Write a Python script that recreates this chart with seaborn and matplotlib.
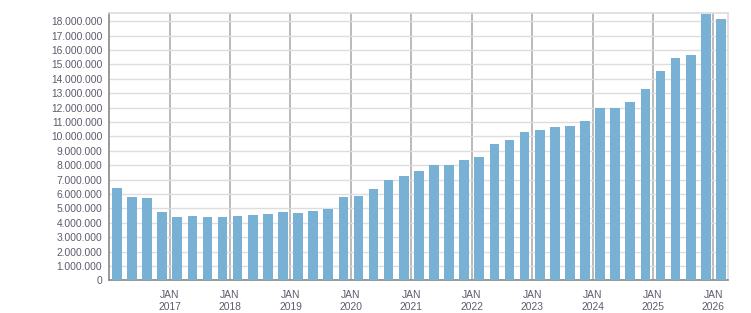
import matplotlib
matplotlib.use("Agg")
import matplotlib.pyplot as plt
import seaborn as sns
import pandas as pd
from matplotlib.ticker import FixedLocator, FuncFormatter

# ---- data ----
quarters = [f"{y}-Q{q}" for y in range(2016, 2026) for q in range(1, 5)] + ["2026-Q1"]
values_mn = [6.41, 5.79, 5.72, 4.75, 4.40, 4.47, 4.40, 4.40, 4.47, 4.54,
             4.61, 4.75, 4.68, 4.82, 4.96, 5.79, 5.88, 6.34, 6.97, 7.25,
             7.60, 8.01, 8.01, 8.36, 8.57, 9.47, 9.75, 10.31, 10.45, 10.66,
             10.72, 11.06, 11.97, 11.97, 12.39, 13.29, 14.55, 15.45, 15.66, 18.50,
             18.16]
year_labels = ["JAN\n2017", "JAN\n2018", "JAN\n2019", "JAN\n2020", "JAN\n2021",
               "JAN\n2022", "JAN\n2023", "JAN\n2024", "JAN\n2025", "JAN\n2026"]
y_ticks_mn = list(range(0, 19))

df = pd.DataFrame({"quarter": quarters, "value": [v * 1e6 for v in values_mn]})

sns.set_style("white")
plt.rcParams["font.family"] = ["Liberation Sans", "DejaVu Sans"]

fig = plt.figure(figsize=(7.51, 3.13), dpi=100)
ax = fig.add_axes([0.1455, 0.1045, 0.8245, 0.853])

sns.barplot(data=df, x="quarter", y="value", order=quarters, color="#78b1d4",
            saturation=1, width=0.64, ax=ax, zorder=3, linewidth=0,
            edgecolor="none")

n = len(quarters)
ax.set_xlim(-0.5, n - 0.5)
ax.set_ylim(0, 18.55e6)

# x ticks: major at January boundaries, minor at each quarter boundary
major_pos = [3.5 + 4 * i for i in range(len(year_labels))]
ax.xaxis.set_major_locator(FixedLocator(major_pos))
ax.set_xticklabels(year_labels)
ax.xaxis.set_minor_locator(FixedLocator([i + 0.5 for i in range(-1, n)]))
ax.tick_params(axis="x", which="both", length=3, width=1, color="#888888",
               labelsize=7.4, labelcolor="#5c5c6e", pad=4)
for lab in ax.get_xticklabels():
    lab.set_linespacing(1.25)

ax.yaxis.set_major_locator(FixedLocator([v * 1e6 for v in y_ticks_mn]))
ax.yaxis.set_major_formatter(FuncFormatter(lambda v, p: f"{int(round(v)):,}".replace(",", ".")))
ax.tick_params(axis="y", which="major", length=4, width=1, color="#888888",
               labelsize=7.4, labelcolor="#5c5c6e", pad=1)

ax.set_xlabel("")
ax.set_ylabel("")

ax.grid(axis="y", color="#dddddd", linewidth=1.0, zorder=0)
ax.grid(axis="x", which="major", color="#b4b4b4", linewidth=1.3, zorder=1)
ax.set_axisbelow(True)

for side in ["left", "bottom"]:
    ax.spines[side].set_color("#888888")
    ax.spines[side].set_linewidth(1.2)
for side in ["top", "right"]:
    ax.spines[side].set_color("#dddddd")
    ax.spines[side].set_linewidth(1.2)

fig.savefig("out.png", dpi=100)
